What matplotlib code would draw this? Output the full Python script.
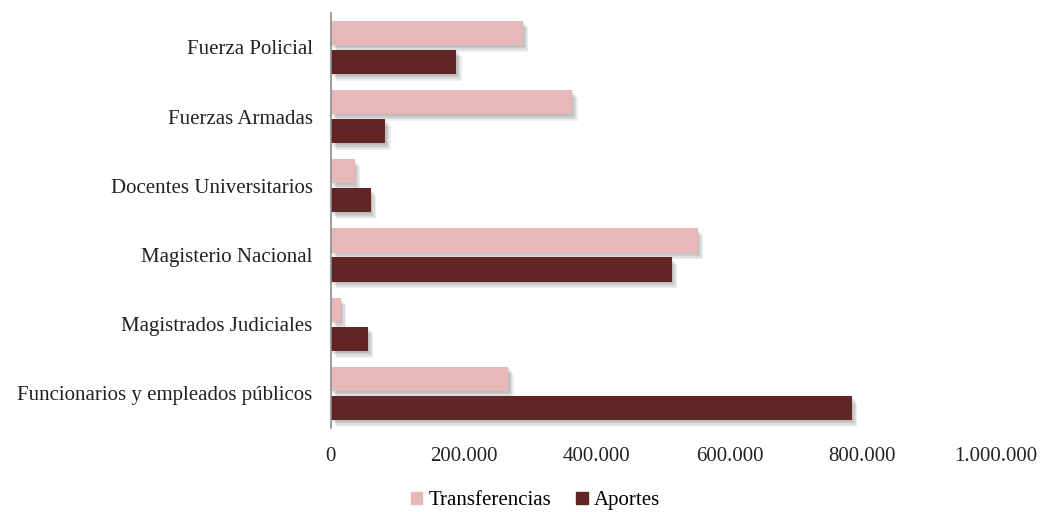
import matplotlib
matplotlib.use("Agg")
import matplotlib.pyplot as plt
import matplotlib.patheffects as pe
from matplotlib.patches import Patch
from matplotlib.ticker import FuncFormatter
import numpy as np

categories = [
    "Fuerza Policial",
    "Fuerzas Armadas",
    "Docentes Universitarios",
    "Magisterio Nacional",
    "Magistrados Judiciales",
    "Funcionarios y empleados públicos",
]
transferencias = [289000, 363000, 36000, 552000, 15000, 267000]
aportes = [189000, 82000, 60000, 513000, 56000, 784000]

color_t = "#E6B8B7"
color_a = "#632523"

plt.rcParams["font.family"] = ["Liberation Serif", "DejaVu Serif"]

fig = plt.figure(figsize=(10.4, 5.12), dpi=100)
ax = fig.add_axes([0.318, 0.164, 0.639, 0.811])

y = np.arange(len(categories))
h = 0.35
gap = 0.035

# soft drop shadow built from a few faint offset copies
shadow = [pe.SimplePatchShadow(offset=(o, -o * 1.2), shadow_rgbFace="#000000", alpha=0.07)
          for o in (1, 2, 3, 4)] + [pe.Normal()]

bt = ax.barh(y - (h / 2 + gap), transferencias, height=h, color=color_t)
ba = ax.barh(y + (h / 2 + gap), aportes, height=h, color=color_a)
for b in list(bt) + list(ba):
    b.set_path_effects(shadow)

ax.set_yticks(y)
ax.set_yticklabels(categories, fontsize=15)
ax.set_ylim(len(categories) - 0.5, -0.5)
ax.set_xlim(0, 1000000)
ax.set_xticks(np.arange(0, 1000001, 200000))
ax.xaxis.set_major_formatter(FuncFormatter(lambda v, p: f"{int(v):,}".replace(",", ".")))
ax.tick_params(axis="x", length=0, labelsize=15, pad=14, colors="#222222")
ax.tick_params(axis="y", length=0, pad=13, colors="#222222")

for s in ["top", "right", "bottom"]:
    ax.spines[s].set_visible(False)
ax.spines["left"].set_color("#8c8c8c")
ax.spines["left"].set_linewidth(1.2)

handles = [Patch(color=color_t), Patch(color=color_a)]
fig.legend(handles=handles, labels=["Transferencias", "Aportes"], loc="center",
           bbox_to_anchor=(0.515, 0.022), ncol=2, frameon=False, fontsize=15,
           handlelength=0.55, handleheight=0.55, handletextpad=0.3, columnspacing=1.2)

fig.savefig("out.png", dpi=100)
